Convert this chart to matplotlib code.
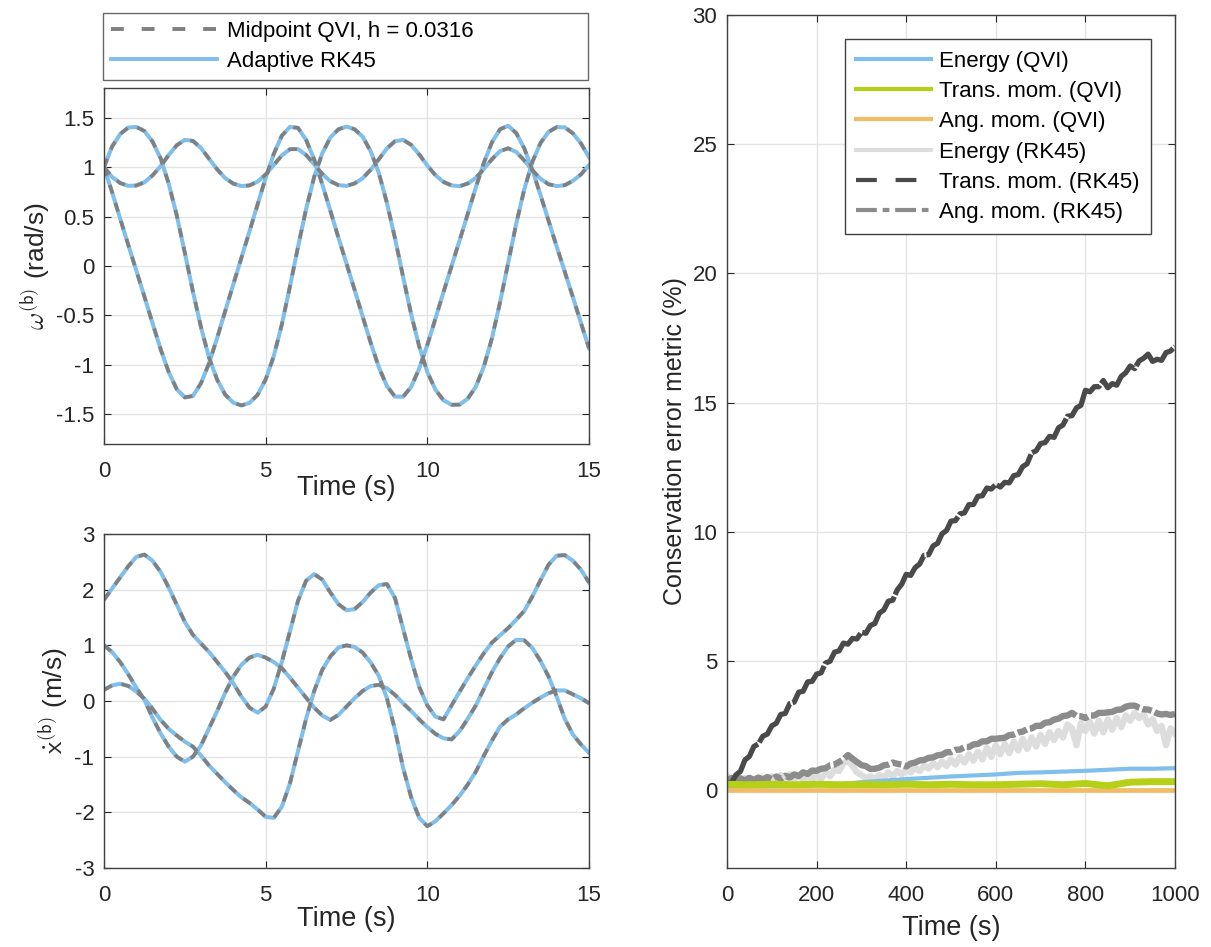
import numpy as np
import matplotlib
matplotlib.use('Agg')
import matplotlib.pyplot as plt
from matplotlib.lines import Line2D

plt.rcParams['font.family'] = ['Liberation Sans', 'DejaVu Sans']
plt.rcParams['mathtext.fontset'] = 'cm'

# ---------------- data ----------------
t_short = np.arange(61) * 0.25  # 0 .. 15 s

omega_1 = [1.00, 1.208, 1.334, 1.400, 1.406, 1.365, 1.259, 1.090, 0.834, 0.512, 0.133, -0.258, -0.619,
           -0.928, -1.150, -1.302, -1.382, -1.410, -1.384, -1.303, -1.147, -0.912, -0.591, -0.209, 0.193,
           0.575, 0.900, 1.139, 1.299, 1.382, 1.410, 1.383, 1.307, 1.159, 0.941, 0.639, 0.279, -0.109,
           -0.488, -0.815, -1.073, -1.250, -1.358, -1.403, -1.402, -1.341, -1.221, -1.015, -0.729, -0.365,
           0.032, 0.429, 0.778, 1.053, 1.244, 1.356, 1.404, 1.402, 1.342, 1.24, 1.10]
omega_2 = [1.00, 0.747, 0.479, 0.214, -0.047, -0.309, -0.578, -0.840, -1.071, -1.246, -1.329, -1.314,
           -1.185, -0.983, -0.727, -0.455, -0.185, 0.083, 0.351, 0.622, 0.892, 1.133, 1.318, 1.406, 1.397,
           1.275, 1.078, 0.827, 0.559, 0.287, 0.024, -0.240, -0.511, -0.778, -1.023, -1.214, -1.321, -1.322,
           -1.223, -1.036, -0.798, -0.533, -0.264, -0.001, 0.261, 0.527, 0.795, 1.045, 1.252, 1.383, 1.418,
           1.344, 1.188, 0.969, 0.718, 0.457, 0.197, -0.058, -0.313, -0.575, -0.832]
omega_3 = [1.00, 0.900, 0.839, 0.810, 0.814, 0.847, 0.916, 1.009, 1.122, 1.221, 1.275, 1.265, 1.193, 1.084,
           0.977, 0.888, 0.833, 0.808, 0.815, 0.853, 0.925, 1.021, 1.118, 1.181, 1.182, 1.123, 1.028, 0.931,
           0.857, 0.818, 0.810, 0.835, 0.887, 0.974, 1.080, 1.189, 1.262, 1.276, 1.225, 1.128, 1.016, 0.919,
           0.850, 0.815, 0.807, 0.834, 0.891, 0.982, 1.081, 1.162, 1.190, 1.153, 1.067, 0.967, 0.882, 0.827,
           0.808, 0.817, 0.861, 0.926, 1.02]

xdot_1 = [1.82, 2.02, 2.22, 2.42, 2.59, 2.63, 2.52, 2.32, 2.04, 1.73, 1.42, 1.19, 1.03, 0.88, 0.70, 0.52,
          0.32, 0.08, -0.12, -0.21, -0.10, 0.22, 0.70, 1.25, 1.80, 2.16, 2.28, 2.18, 1.95, 1.74, 1.63, 1.65,
          1.78, 1.95, 2.08, 2.10, 1.85, 1.30, 0.75, 0.25, -0.08, -0.28, -0.33, -0.08, 0.17, 0.41, 0.64, 0.86,
          1.05, 1.18, 1.31, 1.46, 1.62, 1.88, 2.17, 2.45, 2.61, 2.62, 2.52, 2.36, 2.13]
xdot_2 = [1.00, 0.88, 0.70, 0.48, 0.24, 0.02, -0.30, -0.58, -0.82, -1.00, -1.09, -1.00, -0.80, -0.49, -0.18,
          0.15, 0.44, 0.65, 0.78, 0.83, 0.78, 0.70, 0.59, 0.42, 0.24, 0.06, -0.12, -0.26, -0.34, -0.25, -0.10,
          0.05, 0.18, 0.27, 0.29, 0.23, 0.11, -0.04, -0.18, -0.33, -0.47, -0.59, -0.67, -0.69, -0.54, -0.32,
          -0.08, 0.22, 0.52, 0.77, 0.98, 1.10, 1.09, 0.95, 0.72, 0.44, 0.08, -0.32, -0.60, -0.78, -0.93]
xdot_3 = [0.20, 0.28, 0.31, 0.27, 0.17, 0.04, -0.14, -0.34, -0.50, -0.62, -0.73, -0.82, -0.98, -1.16, -1.31,
          -1.46, -1.60, -1.73, -1.83, -1.95, -2.08, -2.10, -1.90, -1.48, -0.90, -0.32, 0.18, 0.56, 0.80, 0.96,
          1.00, 0.97, 0.87, 0.69, 0.45, 0.05, -0.52, -1.20, -1.73, -2.10, -2.25, -2.16, -2.02, -1.87, -1.70,
          -1.50, -1.27, -0.98, -0.71, -0.46, -0.33, -0.24, -0.13, -0.03, 0.06, 0.14, 0.19, 0.19, 0.12, 0.05,
          -0.04]

t_long = np.arange(101) * 10.0  # 0 .. 1000 s

trans_rk45 = [0.30, 0.30, 0.60, 0.74, 1.18, 1.32, 1.70, 1.80, 2.10, 2.18, 2.50, 2.60, 2.94, 2.98, 3.36, 3.42,
              3.80, 3.84, 4.20, 4.22, 4.50, 4.55, 4.93, 5.00, 5.35, 5.40, 5.70, 5.66, 5.88, 5.86, 6.12, 6.08,
              6.38, 6.46, 6.86, 6.98, 7.32, 7.36, 7.76, 7.98, 8.36, 8.32, 8.62, 8.76, 9.10, 9.12, 9.46, 9.56,
              9.93, 10.06, 10.42, 10.44, 10.70, 10.74, 11.06, 11.06, 11.38, 11.40, 11.70, 11.66, 11.84, 11.74,
              11.92, 11.90, 12.18, 12.22, 12.53, 12.64, 13.06, 13.14, 13.42, 13.46, 13.70, 13.66, 14.03, 14.14,
              14.48, 14.50, 14.80, 14.90, 15.48, 15.42, 15.62, 15.62, 15.86, 15.58, 15.74, 15.68, 16.02, 16.16,
              16.42, 16.32, 16.62, 16.72, 16.88, 16.60, 16.68, 16.64, 16.94, 17.00, 17.18]
ang_rk45 = [0.40, 0.48, 0.36, 0.47, 0.38, 0.49, 0.40, 0.50, 0.41, 0.52, 0.43, 0.54, 0.45, 0.57, 0.50, 0.62,
            0.56, 0.70, 0.64, 0.77, 0.76, 0.84, 0.86, 0.97, 1.00, 1.10, 1.20, 1.37, 1.23, 1.10, 0.98, 0.94,
            0.83, 0.84, 0.88, 0.97, 1.00, 1.08, 1.03, 1.00, 0.93, 1.04, 1.08, 1.16, 1.18, 1.26, 1.28, 1.36,
            1.38, 1.48, 1.48, 1.57, 1.58, 1.68, 1.68, 1.78, 1.80, 1.90, 1.90, 2.00, 2.00, 2.02, 2.04, 2.14,
            2.16, 2.24, 2.28, 2.37, 2.40, 2.50, 2.50, 2.62, 2.64, 2.74, 2.78, 2.88, 2.90, 3.00, 2.88, 2.87,
            2.80, 2.90, 2.90, 3.00, 3.00, 3.02, 3.04, 3.12, 3.13, 3.24, 3.28, 3.28, 3.20, 3.14, 3.13, 3.07,
            2.98, 2.94, 2.96, 2.92, 2.96]
energy_rk45 = [0.55, 0.35, 0.50, 0.30, 0.48, 0.32, 0.45, 0.30, 0.50, 0.35, 0.55, 0.38, 0.60, 0.40, 0.62, 0.42,
               0.58, 0.40, 0.55, 0.42, 0.60, 0.45, 0.70, 0.55, 0.80, 0.75, 1.05, 1.15, 0.95, 0.70, 0.60, 0.48,
               0.55, 0.45, 0.60, 0.50, 0.70, 0.55, 0.75, 0.62, 0.80, 0.70, 0.88, 0.75, 0.95, 0.85, 1.05, 0.90,
               1.12, 0.95, 1.20, 1.00, 1.30, 1.08, 1.40, 1.15, 1.50, 1.20, 1.65, 1.30, 1.75, 1.40, 1.80, 1.45,
               1.90, 1.55, 2.00, 1.60, 2.05, 1.70, 2.15, 1.80, 2.25, 1.95, 2.30, 2.05, 2.55, 2.40, 1.75, 2.60,
               2.30, 2.65, 2.20, 2.70, 2.25, 2.75, 2.35, 2.80, 2.45, 2.90, 2.70, 3.00, 2.80, 2.95, 2.55, 2.75,
               2.30, 2.50, 1.75, 2.40, 2.20]

t_qvi = np.arange(21) * 50.0
energy_qvi = [0.14, 0.15, 0.16, 0.18, 0.20, 0.24, 0.32, 0.38, 0.44, 0.49, 0.54, 0.58, 0.62, 0.68, 0.70, 0.73,
              0.76, 0.80, 0.84, 0.84, 0.86]
trans_qvi = [0.24, 0.22, 0.24, 0.22, 0.24, 0.22, 0.23, 0.22, 0.24, 0.22, 0.24, 0.22, 0.22, 0.24, 0.26, 0.22,
             0.27, 0.18, 0.32, 0.34, 0.34]
ang_qvi = [0.02] * 21

# ---------------- styles ----------------
BLUE = '#80BEEB'
GRAYD = '#808080'
GREEN = '#B5D016'
ORANGE = '#F2BC66'
LIGHT = '#DDDDDD'
DARK = '#4A4A4A'
MID = '#8C8C8C'
AX = '#262626'
GRID = '#E4E4E4'

fig = plt.figure(figsize=(12.11, 9.47), dpi=100)
W, H = 1211.0, 947.0


def px_axes(x0, y0, x1, y1):
    return fig.add_axes([x0 / W, 1 - y1 / H, (x1 - x0) / W, (y1 - y0) / H])


def style(ax):
    ax.tick_params(direction='in', top=True, right=True, length=5, width=0.8,
                   colors=AX, labelsize=16)
    ax.tick_params(axis='x', pad=12.5)
    ax.tick_params(axis='y', pad=7)
    for s in ax.spines.values():
        s.set_color('#404040')
        s.set_linewidth(1.0)
    ax.grid(True, color=GRID, linewidth=1.0)
    ax.set_axisbelow(True)


ax1 = px_axes(104, 88, 589, 444)
ax2 = px_axes(104, 534, 589, 868)
ax3 = px_axes(727, 15, 1175, 868)

for ax in (ax1, ax2, ax3):
    style(ax)

DASH = (2.5, 2.7)

# top-left
for y in (omega_1, omega_2, omega_3):
    ax1.plot(t_short, y, color=BLUE, lw=2.9)
for y in (omega_1, omega_2, omega_3):
    ax1.plot(t_short, y, color=GRAYD, lw=2.6, dashes=DASH)
ax1.set_xlim(0, 15)
ax1.set_ylim(-1.8, 1.8)
ax1.set_xticks([0, 5, 10, 15])
ax1.set_yticks([-1.5, -1, -0.5, 0, 0.5, 1, 1.5])
ax1.set_yticklabels(['-1.5', '-1', '-0.5', '0', '0.5', '1', '1.5'])
ax1.set_xlabel('Time (s)', fontsize=19.5, color=AX, labelpad=-5)
ax1.set_ylabel(r'$\omega^{\mathsf{(b)}}$ (rad/s)', fontsize=19, color=AX, labelpad=3)

# bottom-left
for y in (xdot_1, xdot_2, xdot_3):
    ax2.plot(t_short, y, color=BLUE, lw=2.9)
for y in (xdot_1, xdot_2, xdot_3):
    ax2.plot(t_short, y, color=GRAYD, lw=2.6, dashes=DASH)
ax2.set_xlim(0, 15)
ax2.set_ylim(-3, 3)
ax2.set_xticks([0, 5, 10, 15])
ax2.set_yticks([-3, -2, -1, 0, 1, 2, 3])
ax2.set_yticklabels(['-3', '-2', '-1', '0', '1', '2', '3'])
ax2.set_xlabel('Time (s)', fontsize=19.5, color=AX, labelpad=0)
ax2.set_ylabel(r'$\dot{\mathsf{x}}^{\mathsf{(b)}}$ (m/s)', fontsize=19, color=AX, labelpad=3)

# top legend (figure level)
h_mid = Line2D([], [], color=GRAYD, lw=2.8, dashes=(3.3, 4.6))
h_rk = Line2D([], [], color=BLUE, lw=2.8)
fig.legend([h_mid, h_rk], ['Midpoint QVI, h = 0.0316', 'Adaptive RK45'],
           loc='lower left', bbox_to_anchor=(103 / W, 1 - 80 / H, 485 / W, 70 / H),
           mode='expand', fontsize=16, frameon=True, fancybox=False, edgecolor='#404040',
           handlelength=4.8, handletextpad=0.45, labelspacing=0.42, borderpad=0.35,
           borderaxespad=0.0)

# right
ax3.plot(t_long, energy_rk45, color=LIGHT, lw=4.6)
ax3.plot(t_long, ang_rk45, color=MID, lw=4.6, dashes=(8, 0.5, 1.5, 0.5))
ax3.plot(t_long, trans_rk45, color=DARK, lw=3.8, dashes=(10, 0.4))
ax3.plot(t_qvi, energy_qvi, color=BLUE, lw=3.0)
ax3.plot(t_qvi, ang_qvi, color=ORANGE, lw=3.4)
ax3.plot(t_qvi, trans_qvi, color=GREEN, lw=5.0)
ax3.set_xlim(0, 1000)
ax3.set_ylim(-3, 30)
ax3.set_xticks([0, 200, 400, 600, 800, 1000])
ax3.set_yticks([0, 5, 10, 15, 20, 25, 30])
ax3.set_xlabel('Time (s)', fontsize=19.5, color=AX, labelpad=6)
ax3.set_ylabel('Conservation error metric (%)', fontsize=18, color=AX, labelpad=4)

hands = [Line2D([], [], color=BLUE, lw=3.0),
         Line2D([], [], color=GREEN, lw=3.0),
         Line2D([], [], color=ORANGE, lw=3.0),
         Line2D([], [], color=LIGHT, lw=3.0),
         Line2D([], [], color=DARK, lw=3.0, dashes=(5, 4.5)),
         Line2D([], [], color=MID, lw=3.0, dashes=(5, 1.4, 1.6, 1.4))]
labs = ['Energy (QVI)', 'Trans. mom. (QVI)', 'Ang. mom. (QVI)', 'Energy (RK45)',
        'Trans. mom. (RK45)', 'Ang. mom. (RK45)']
ax3.legend(hands, labs, loc='upper right', fontsize=16, frameon=True, fancybox=False,
           edgecolor='#404040', framealpha=1, handlelength=3.4, handletextpad=0.35,
           labelspacing=0.42, borderpad=0.5, borderaxespad=1.1)

fig.savefig('out.png', dpi=100)
